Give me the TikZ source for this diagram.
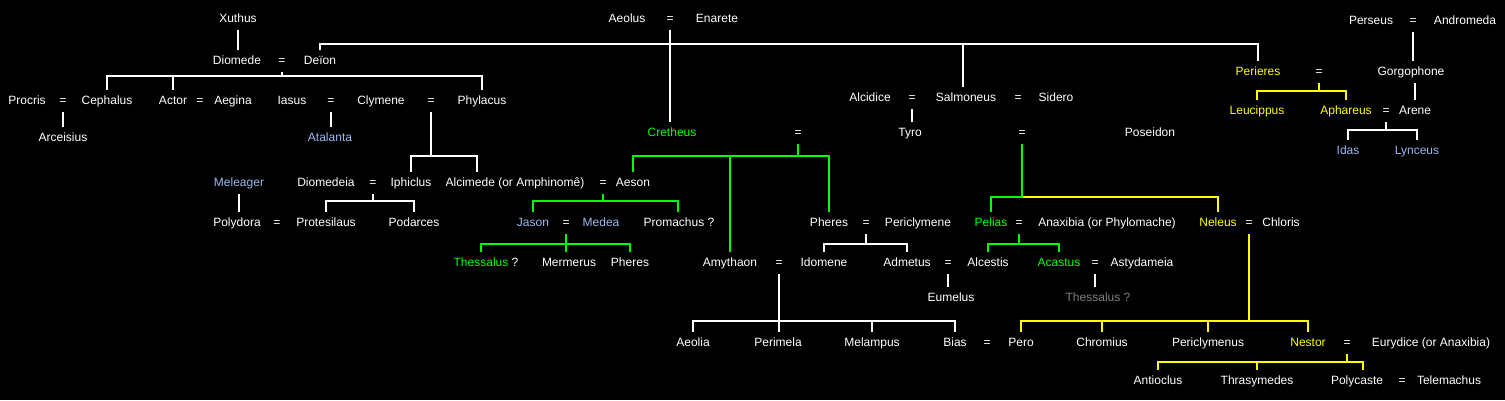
\documentclass[tikz,border=0pt]{standalone}
\usepackage{fontspec}
\setmainfont{Liberation Sans}
\definecolor{aeolgreen}{RGB}{0,255,0}
\definecolor{nelyellow}{RGB}{255,255,0}
\definecolor{herocolor}{RGB}{155,185,240}
\definecolor{doubtcolor}{RGB}{128,128,128}

\begin{document}
\begin{tikzpicture}[x=1pt,y=-1pt,
    every node/.style={text=white, font=\fontsize{12}{14}\selectfont,
      inner xsep=0pt, inner ysep=6pt, text height=8pt, text depth=2pt},
    aeolid/.style={text=aeolgreen}, neleid/.style={text=nelyellow},
    hero/.style={text=herocolor}, doubt/.style={text=doubtcolor},
    kin/.style={draw=white, line width=2pt},
    kinaeolid/.style={draw=aeolgreen, line width=2pt},
    kinneleid/.style={draw=nelyellow, line width=2pt}]
  \fill[black] (0,0) rectangle (1505,400);
  \useasboundingbox (0,0) rectangle (1505,400);

  % first generation
  \node (xuthus) at (238,19) {Xuthus};
  \node (aeolus) at (627,19) {Aeolus};
  \node (eqAE) at (670,19) {=};
  \node (enarete) at (717,19) {Enarete};
  \node (perseus) at (1371,21) {Perseus};
  \node (eqPA) at (1413,21) {=};
  \node (andromeda) at (1465,21) {Andromeda};

  \node (diomede) at (237,61) {Diomede};
  \node (eqDD) at (282,61) {=};
  \node (deion) at (320,61) {De\"{\i}on};
  \node[neleid] (perieres) at (1258,72) {Perieres};
  \node (eqPG) at (1319,72) {=};
  \node (gorgophone) at (1411,72) {Gorgophone};

  % children of Deion and of Aeolus
  \node (procris) at (27,101) {Procris};
  \node (eqPC) at (63,101) {=};
  \node (cephalus) at (107,101) {Cephalus};
  \node (actor) at (173,101) {Actor};
  \node (eqAA) at (200,101) {=};
  \node (aegina) at (233,101) {Aegina};
  \node (iasus) at (292,101) {Iasus};
  \node (eqIC) at (331,101) {=};
  \node (clymene) at (381,101) {Clymene};
  \node (eqCP) at (431,101) {=};
  \node (phylacus) at (482,101) {Phylacus};
  \node (alcidice) at (870,98) {Alcidice};
  \node (eqAS) at (912,98) {=};
  \node (salmoneus) at (966,98) {Salmoneus};
  \node (eqSS) at (1018,98) {=};
  \node (sidero) at (1056,98) {Sidero};
  \node[neleid] (leucippus) at (1257,111) {Leucippus};
  \node[neleid] (aphareus) at (1346,111) {Aphareus};
  \node (eqAAr) at (1386,111) {=};
  \node (arene) at (1415,111) {Arene};

  \node (arceisius) at (63,138) {Arceisius};
  \node[hero] (atalanta) at (330,138) {Atalanta};
  \node[aeolid] (cretheus) at (672,133) {Cretheus};
  \node (eqCT) at (798,133) {=};
  \node (tyro) at (910,133) {Tyro};
  \node (eqTP) at (1022,133) {=};
  \node (poseidon) at (1150,133) {Poseidon};
  \node[hero] (idas) at (1348,151) {Idas};
  \node[hero] (lynceus) at (1417,151) {Lynceus};

  \node[hero] (meleager) at (239,183) {Meleager};
  \node (diomedeia) at (326,183) {Diomedeia};
  \node (eqDI) at (373,183) {=};
  \node (iphiclus) at (411,183) {Iphiclus};
  \node (alcimede) at (515,183) {Alcimede (or Amphinom\^e)};
  \node (eqAAe) at (603,183) {=};
  \node (aeson) at (633,183) {Aeson};

  \node (polydora) at (237,223) {Polydora};
  \node (eqPP) at (277,223) {=};
  \node (protesilaus) at (326,223) {Protesilaus};
  \node (podarces) at (414,223) {Podarces};
  \node[hero] (jason) at (533,223) {Jason};
  \node (eqJM) at (566,223) {=};
  \node[hero] (medea) at (601,223) {Medea};
  \node (promachus) at (679,223) {Promachus ?};
  \node (pheresA) at (829,223) {Pheres};
  \node (eqPPe) at (866,223) {=};
  \node (periclymene) at (918,223) {Periclymene};
  \node[aeolid] (pelias) at (991,223) {Pelias};
  \node (eqPAn) at (1019,223) {=};
  \node (anaxibia) at (1107,223) {Anaxibia (or Phylomache)};
  \node[neleid] (neleus) at (1218,223) {Neleus};
  \node (eqNC) at (1249,223) {=};
  \node (chloris) at (1281,223) {Chloris};

  \node (thessalusA) at (486,263) {\textcolor{aeolgreen}{Thessalus} ?};
  \node (mermerus) at (569,263) {Mermerus};
  \node (pheresB) at (630,263) {Pheres};
  \node (amythaon) at (730,263) {Amythaon};
  \node (eqAI) at (779,263) {=};
  \node (idomene) at (824,263) {Idomene};
  \node (admetus) at (907,263) {Admetus};
  \node (eqAAl) at (948,263) {=};
  \node (alcestis) at (988,263) {Alcestis};
  \node[aeolid] (acastus) at (1059,263) {Acastus};
  \node (eqAAs) at (1095,263) {=};
  \node (astydameia) at (1142,263) {Astydameia};
  \node (eumelus) at (951,298) {Eumelus};
  \node[doubt] (thessalusB) at (1098,298) {Thessalus ?};

  \node (aeolia) at (693,343) {Aeolia};
  \node (perimela) at (778,343) {Perimela};
  \node (melampus) at (872,343) {Melampus};
  \node (bias) at (955,343) {Bias};
  \node (eqBP) at (987,343) {=};
  \node (pero) at (1021,343) {Pero};
  \node (chromius) at (1102,343) {Chromius};
  \node (periclymenus) at (1208,343) {Periclymenus};
  \node[neleid] (nestor) at (1308,343) {Nestor};
  \node (eqNE) at (1347,343) {=};
  \node (eurydice) at (1431,343) {Eurydice (or Anaxibia)};

  \node (antioclus) at (1158,381) {Antioclus};
  \node (thrasymedes) at (1257,381) {Thrasymedes};
  \node (polycaste) at (1357,381) {Polycaste};
  \node (eqPT) at (1402,381) {=};
  \node (telemachus) at (1449,381) {Telemachus};

  % white lines
  \draw[kin] (xuthus.south) -- (xuthus |- diomede.north);
  \draw[kin] (deion.north) -- (deion |- 0,44) -| (perieres.north);
  \draw[kin] ([xshift=-3pt]salmoneus.north) -- ([xshift=-3pt]salmoneus.north |- 0,44);
  \draw[kin] (eqAE.south) -- (eqAE |- cretheus.north);
  \draw[kin] (eqDD.south) -- (eqDD |- 0,76);
  \draw[kin] (cephalus.north) |- (phylacus |- 0,76) -- (phylacus.north);
  \draw[kin] (actor.north) -- (actor |- 0,76);
  \draw[kin] (eqPC.south) -- (arceisius.north);
  \draw[kin] (eqIC.south) -- (eqIC |- atalanta.north);
  \draw[kin] (eqCP.south) -- (eqCP |- 0,156);
  \draw[kin] (iphiclus.north) |- ([xshift=32pt]alcimede.north west |- 0,156)
    -- ([xshift=32pt]alcimede.north west);
  \draw[kin] (meleager.south) -- (meleager |- polydora.north);
  \draw[kin] (eqDI.south) -- (eqDI |- 0,201);
  \draw[kin] (protesilaus.north) |- (podarces |- 0,201) -- (podarces.north);
  \draw[kin] (eqAS.south) -- (eqAS |- tyro.north);
  \draw[kin] (eqPA.south) -- (eqPA |- gorgophone.north);
  \draw[kin] (gorgophone.south -| arene) -- (arene.north);
  \draw[kin] (eqAAr.south) -- (eqAAr |- 0,130);
  \draw[kin] (idas.north) |- (lynceus |- 0,130) -- (lynceus.north);
  \draw[kin] (eqPPe.south) -- (eqPPe |- 0,244);
  \draw[kin] (idomene.north) |- (admetus |- 0,244) -- (admetus.north);
  \draw[kin] (eqAAl.south) -- (eqAAl |- eumelus.north);
  \draw[kin] (eqAAs.south) -- (eqAAs |- thessalusB.north);
  \draw[kin] (eqAI.south) -- (eqAI |- perimela.north);
  \draw[kin] (aeolia.north) |- (bias |- 0,321) -- (bias.north);
  \draw[kin] (melampus.north) -- (melampus |- 0,321);

  % the line of Cretheus
  \draw[kinaeolid] (eqCT.south) -- (eqCT |- 0,156);
  \draw[kinaeolid] (aeson.north) |- (pheresA |- 0,156) -- (pheresA.north);
  \draw[kinaeolid] (amythaon.north) -- (amythaon |- 0,156);
  \draw[kinaeolid] (eqAAe.south) -- (eqAAe |- 0,201);
  \draw[kinaeolid] (jason.north) |- ([xshift=35pt]promachus.north west |- 0,201)
    -- ([xshift=35pt]promachus.north west);
  \draw[kinaeolid] (eqJM.south) -- (eqJM |- mermerus.north);
  \draw[kinaeolid] ([xshift=28pt]thessalusA.north west) |- (pheresB |- 0,244)
    -- (pheresB.north);
  \draw[kinaeolid] (eqPAn.south) -- (eqPAn |- 0,244);
  \draw[kinaeolid] (alcestis.north) |- (acastus |- 0,244) -- (acastus.north);

  % the line of Neleus
  \draw[kinneleid] (eqTP |- 0,197) -| (neleus.north);
  \draw[kinaeolid] (eqTP.south) -- (eqTP |- 0,197) -| (pelias.north);
  \draw[kinneleid] (eqPG.south) -- (eqPG |- 0,91);
  \draw[kinneleid] (leucippus.north) |- (aphareus |- 0,91) -- (aphareus.north);
  \draw[kinneleid] (eqNC.south) -- (eqNC |- 0,321);
  \draw[kinneleid] (pero.north) |- (nestor |- 0,321) -- (nestor.north);
  \draw[kinneleid] (chromius.north) -- (chromius |- 0,321);
  \draw[kinneleid] (periclymenus.north) -- (periclymenus |- 0,321);
  \draw[kinneleid] (eqNE.south) -- (eqNE |- 0,362);
  \draw[kinneleid] (antioclus.north) |- ([xshift=6pt]polycaste.north |- 0,362)
    -- ([xshift=6pt]polycaste.north);
  \draw[kinneleid] (thrasymedes.north) -- (thrasymedes |- 0,362);
\end{tikzpicture}
\end{document}
